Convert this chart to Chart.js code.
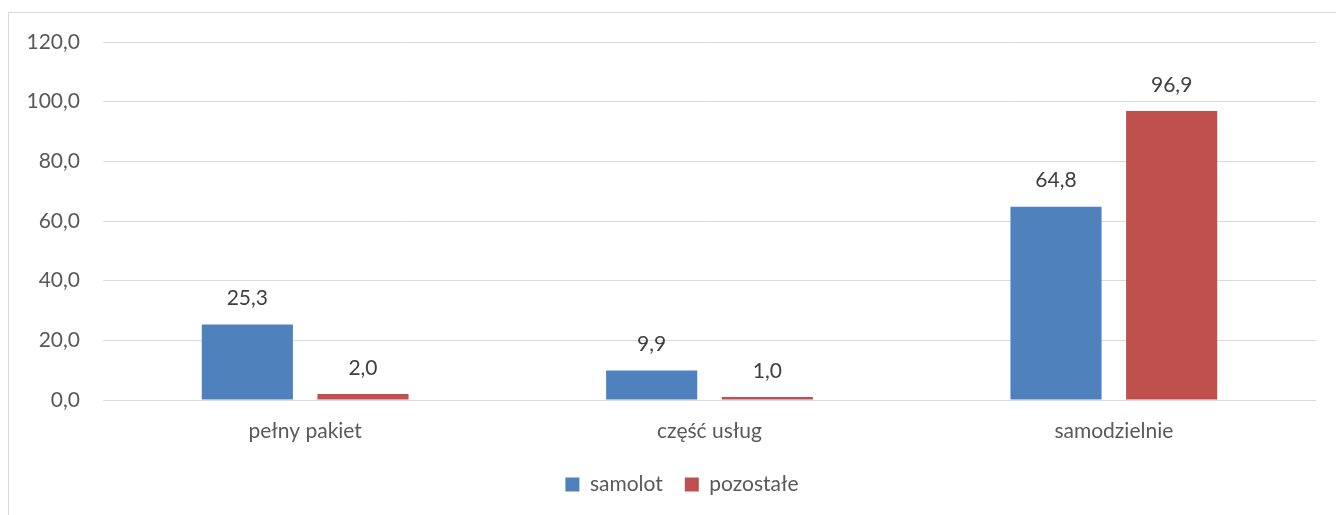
<!DOCTYPE html>
<html>
<head>
<meta charset="utf-8">
<script src="https://cdn.jsdelivr.net/npm/chart.js@4/dist/chart.umd.min.js"></script>
<style>
  html, body { margin: 0; padding: 0; background: #fff; overflow: hidden; }
  #frame { position: absolute; left: 8px; top: 12px; width: 1400px; height: 600px; border: 1px solid #d9d9d9; }
  #wrap { position: absolute; left: 0; top: 0; width: 1336px; height: 515px; }
</style>
</head>
<body>
<div id="frame"></div>
<div id="wrap"><canvas id="c" width="1336" height="515"></canvas></div>
<script>
const categories = ["pełny pakiet", "część usług", "samodzielnie"];
const samolot = [25.3, 9.9, 64.8];
const pozostale = [2.0, 1.0, 96.9];
const seriesNames = ["samolot", "pozostałe"];
const yTicks = [0, 20, 40, 60, 80, 100, 120];

const fmt = v => Number(v).toFixed(1).replace('.', ',');
const FONT = 'Lato';

const dataLabels = {
  id: 'dataLabels',
  afterDatasetsDraw(chart) {
    const ctx = chart.ctx;
    ctx.save();
    ctx.font = '21px ' + FONT;
    ctx.fillStyle = '#404040';
    ctx.textAlign = 'center';
    ctx.textBaseline = 'middle';
    chart.data.datasets.forEach((ds, i) => {
      const meta = chart.getDatasetMeta(i);
      meta.data.forEach((el, j) => {
        ctx.fillText(fmt(ds.data[j]), el.x, el.y - 26);
      });
    });
    ctx.restore();
  }
};

const legendShift = {
  id: 'legendShift',
  afterLayout(chart) {
    if (chart.legend) {
      chart.legend.left += 24;
      chart.legend.right += 24;
    }
  }
};

new Chart(document.getElementById('c'), {
  type: 'bar',
  data: {
    labels: categories,
    datasets: [
      { label: seriesNames[0], data: samolot, backgroundColor: '#4F81BD', categoryPercentage: 0.572, barPercentage: 0.788 },
      { label: seriesNames[1], data: pozostale, backgroundColor: '#C0504D', categoryPercentage: 0.572, barPercentage: 0.788 }
    ]
  },
  options: {
    responsive: false,
    animation: false,
    layout: { padding: { top: 42, right: 20, left: 0, bottom: 10 } },
    plugins: {
      legend: {
        position: 'bottom',
        labels: {
          boxWidth: 14, boxHeight: 14, padding: 22,
          color: '#595959',
          font: { family: FONT, size: 21 }
        }
      },
      tooltip: { enabled: false }
    },
    scales: {
      y: {
        min: 0, max: 120,
        afterBuildTicks(scale) { scale.ticks = yTicks.map(v => ({ value: v })); },
        afterFit(scale) { scale.width = 103; },
        grid: { color: '#d9d9d9', lineWidth: 1, drawTicks: false },
        border: { display: false },
        ticks: {
          padding: 23,
          color: '#595959',
          font: { family: FONT, size: 21 },
          callback: v => fmt(v)
        }
      },
      x: {
        grid: { display: false, drawTicks: false },
        border: { display: false },
        afterFit(scale) { scale.height = 52; },
        ticks: {
          padding: 19,
          color: '#595959',
          font: { family: FONT, size: 21 }
        }
      }
    }
  },
  plugins: [dataLabels, legendShift]
});
</script>
</body>
</html>
